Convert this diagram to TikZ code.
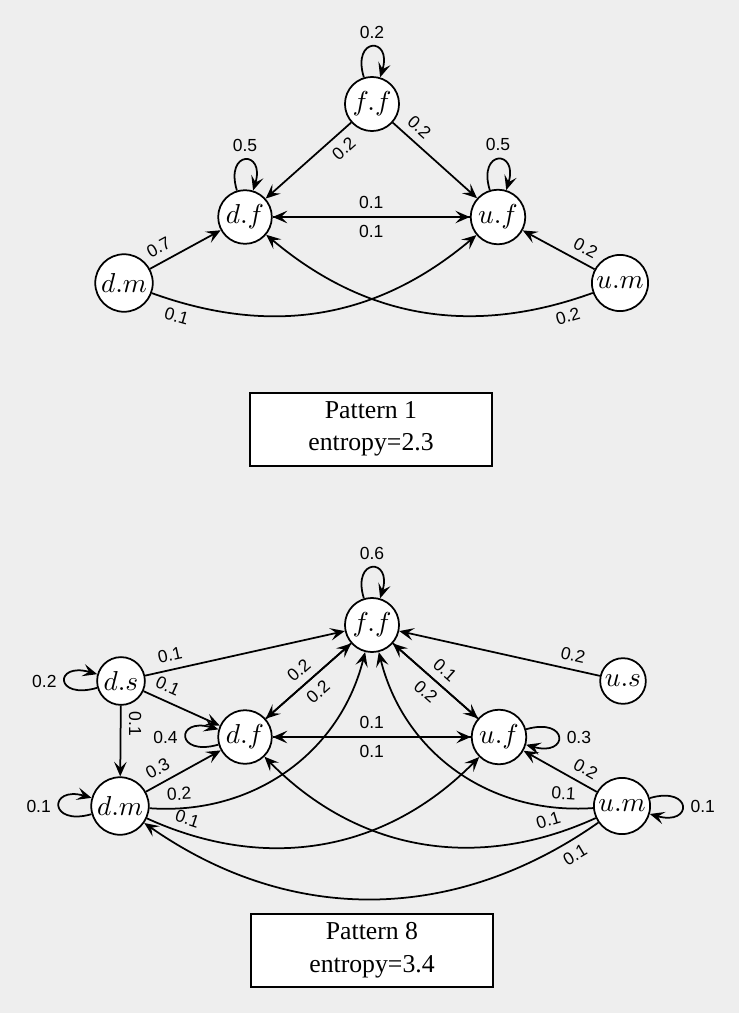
\documentclass[tikz,border=0pt]{standalone}
\usepackage[no-math]{fontspec}
\setmainfont{Liberation Serif}
\setsansfont{Liberation Sans}
\usepackage{xcolor}
\definecolor{bgGray}{HTML}{EEEEEE}
\usetikzlibrary{arrows.meta}
\tikzset{
    % Markov states - white circles
    state/.style={
        circle,
        draw=black,
        fill=white,
        line width=0.7pt,
        inner sep=1.2pt,
        font=\fontsize{10.5}{12}\selectfont,
    },
    % Transition arrows
    trans/.style={
        -{Stealth[length=5.8pt, width=5pt, inset=2.4pt]},
        line width=0.7pt,
    },
    % Self loops, drawn as curves back into the same state
    loop up/.style={out=107, in=73, looseness=4, min distance=6mm},
    loop west/.style={out=196, in=164, looseness=4, min distance=6.3mm},
    loop east/.style={out=16, in=-16, looseness=4, min distance=6.3mm},
    % Transition probabilities
    prob/.style={
        font=\sffamily\fontsize{7}{8}\selectfont,
        inner sep=3pt,
    },
    % Caption under each pattern
    caption box/.style={
        draw,
        fill=white,
        line width=0.8pt,
        minimum width=96.8pt,
        minimum height=29.2pt,
        align=center,
        font=\fontsize{10.3}{13}\selectfont,
    },
}

\begin{document}
\begin{tikzpicture}[x=0.4pt, y=-0.4pt]
    \fill[bgGray] (0,0) rectangle (739,1013);
    \useasboundingbox (0,0) rectangle (739,1013);

    % Pattern 1
    \node[state] (ff1) at (372,104) {$f.f$};
    \node[state] (df1) at (245,217) {$d.f$};
    \node[state] (uf1) at (498,217) {$u.f$};
    \node[state] (dm1) at (124,283) {$d.m$};
    \node[state] (um1) at (620,283) {$u.m$};
    \node[caption box] (cap1) at (371,429) {Pattern 1\\entropy=2.3};

    \path[trans]
        (ff1) edge[loop up] node[prob, above] {0.2} (ff1)
        (df1) edge[loop up] node[prob, above] {0.5} (df1)
        (uf1) edge[loop up] node[prob, above] {0.5} (uf1)
        (ff1) edge node[prob, sloped, below, pos=0.2] {0.2} (df1)
        (ff1) edge node[prob, sloped, above, pos=0.2] {0.2} (uf1)
        (df1) edge node[prob, above] {0.1} (uf1)
        (uf1) edge node[prob, below] {0.1} (df1)
        (dm1) edge node[prob, sloped, above, pos=0.22] {0.7} (df1)
        (um1) edge node[prob, sloped, above, pos=0.22] {0.2} (uf1)
        (dm1) edge[bend right=30] node[prob, sloped, below, pos=0.08] {0.1} (uf1)
        (um1) edge[bend left=30] node[prob, sloped, below, pos=0.08] {0.2} (df1);

    % Pattern 8
    \node[state] (ff8) at (372,625) {$f.f$};
    \node[state] (ds8) at (121,681) {$d.s$};
    \node[state] (us8) at (623,681) {$u.s$};
    \node[state] (df8) at (245,737) {$d.f$};
    \node[state] (uf8) at (499,737) {$u.f$};
    \node[state] (dm8) at (120,806) {$d.m$};
    \node[state] (um8) at (622,806) {$u.m$};
    \node[caption box] (cap8) at (372,950) {Pattern 8\\entropy=3.4};

    \path[trans]
        (ff8) edge[loop up] node[prob, above] {0.6} (ff8)
        (ds8) edge[loop west] node[prob, left] {0.2} (ds8)
        (df8) edge[loop west] node[prob, left] {0.4} (df8)
        (dm8) edge[loop west] node[prob, left] {0.1} (dm8)
        (uf8) edge[loop east] node[prob, right] {0.3} (uf8)
        (um8) edge[loop east] node[prob, right] {0.1} (um8)
        (ds8) edge node[prob, sloped, above, pos=0.14] {0.1} (ff8)
        (ds8) edge node[prob, sloped, above, pos=0.24] {0.1} (df8)
        (ds8) edge node[prob, rotate=-90, anchor=south, pos=0.26] {0.1} (dm8)
        (us8) edge node[prob, sloped, above, pos=0.15] {0.2} (ff8)
        (df8) edge node[prob, sloped, above] {0.2} (ff8)
        (ff8) edge node[prob, sloped, below] {0.2} (df8)
        (ff8) edge node[prob, sloped, above] {0.1} (uf8)
        (uf8) edge node[prob, sloped, below] {0.2} (ff8)
        (df8) edge node[prob, above] {0.1} (uf8)
        (uf8) edge node[prob, below] {0.1} (df8)
        (dm8) edge node[prob, sloped, above, pos=0.25] {0.3} (df8)
        (dm8) edge[bend right=40] node[prob, sloped, above, pos=0.1] {0.2} (ff8)
        (dm8) edge[bend right=35] node[prob, sloped, above, pos=0.1] {0.1} (uf8)
        (um8) edge node[prob, sloped, above, pos=0.25] {0.2} (uf8)
        (um8) edge[bend left=40] node[prob, sloped, above, pos=0.1] {0.1} (ff8)
        (um8) edge[bend left=35] node[prob, sloped, above, pos=0.12] {0.1} (df8)
        (um8) edge[bend left=35] node[prob, sloped, below, pos=0.07] {0.1} (dm8);
\end{tikzpicture}
\end{document}
